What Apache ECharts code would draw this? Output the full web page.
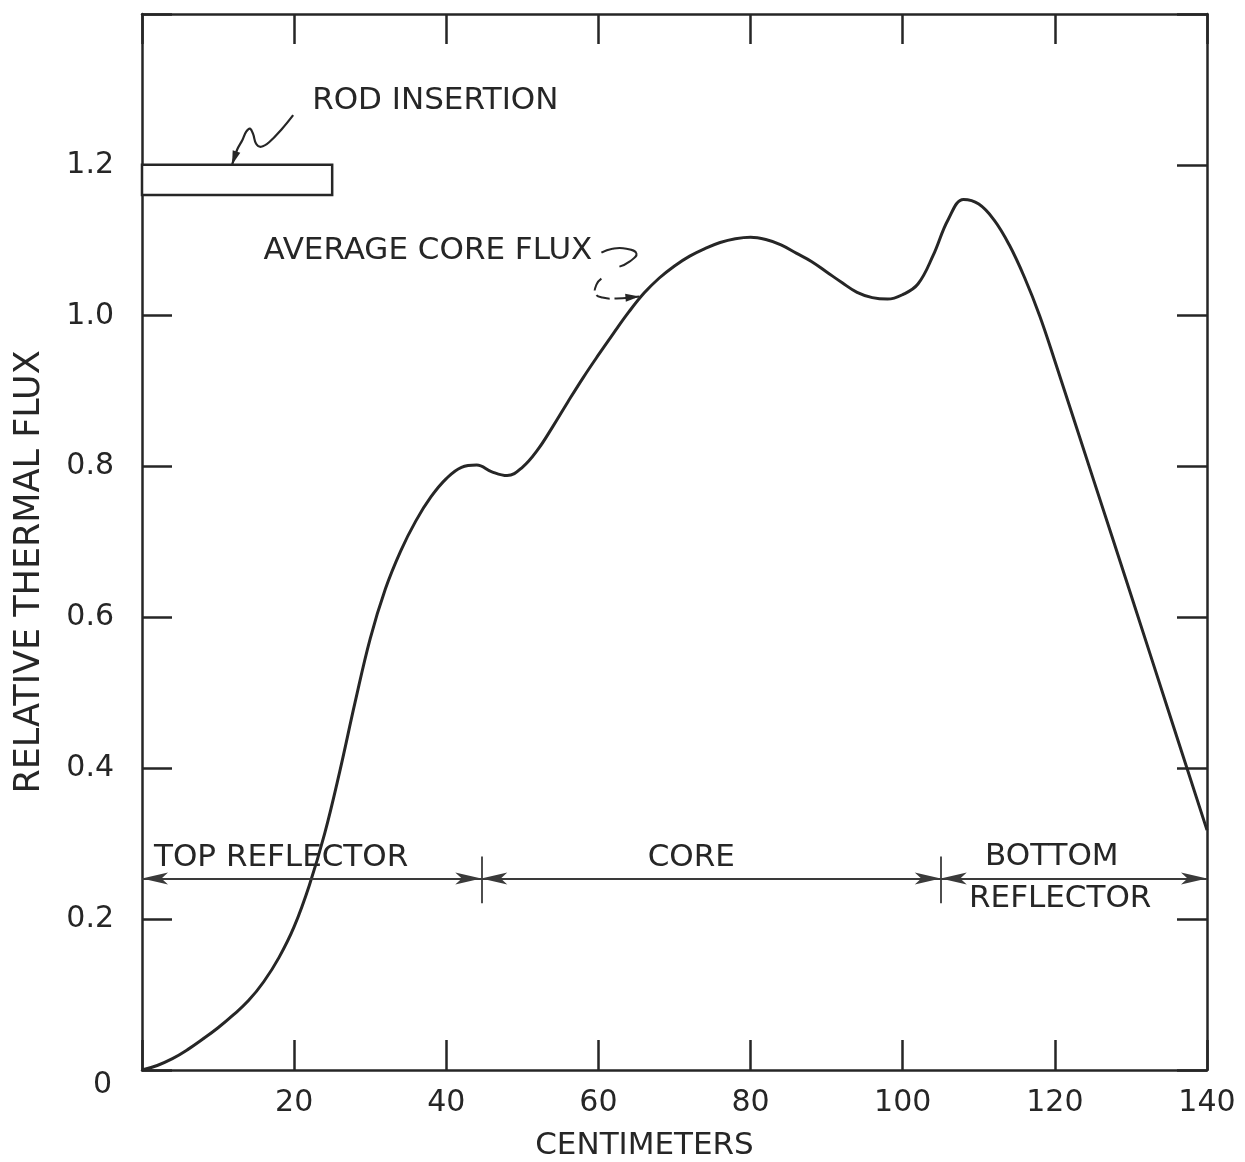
<!DOCTYPE html>
<html>
<head>
<meta charset="utf-8">
<title>Relative Thermal Flux</title>
<script src="https://cdn.jsdelivr.net/npm/echarts@6/dist/echarts.min.js"></script>
<style>
  html, body { margin: 0; padding: 0; background: #ffffff; }
  #chart { width: 1245px; height: 1162px; }
</style>
</head>
<body>
<div id="chart"></div>
<script>
// Axial position along the assembly (cm) and the average core thermal flux
const positionCm = [0, 2, 4, 6, 8, 10, 12, 14, 16, 18, 20, 22, 24, 26, 28, 30, 32, 34, 36, 38, 40, 42, 44, 46, 48, 50, 52, 54, 56, 58, 60, 62, 64, 66, 68, 70, 72, 74, 76, 78, 80, 82, 84, 86, 88, 90, 92, 94, 96, 98, 100, 102, 104, 106, 108, 110, 112, 114, 116, 118, 120, 125, 130, 135, 140];
const relativeFlux = [0, 0.006, 0.015, 0.027, 0.041, 0.056, 0.073, 0.092, 0.117, 0.149, 0.19, 0.245, 0.313, 0.396, 0.487, 0.572, 0.638, 0.688, 0.728, 0.76, 0.784, 0.799, 0.802, 0.793, 0.788, 0.799, 0.822, 0.853, 0.886, 0.918, 0.948, 0.977, 1.005, 1.03, 1.05, 1.066, 1.079, 1.089, 1.097, 1.102, 1.104, 1.101, 1.094, 1.083, 1.072, 1.058, 1.044, 1.031, 1.024, 1.022, 1.028, 1.042, 1.08, 1.128, 1.154, 1.148, 1.127, 1.094, 1.051, 1.0, 0.94, 0.785, 0.63, 0.474, 0.318];

// Axis scales and tick labels
const xTickValues = [0, 20, 40, 60, 80, 100, 120, 140];
const xTickLabels = ['', '20', '40', '60', '80', '100', '120', '140'];
const yTickValues = [0, 0.2, 0.4, 0.6, 0.8, 1.0, 1.2, 1.4];
const yTickLabels = ['0', '0.2', '0.4', '0.6', '0.8', '1.0', '1.2', ''];

// Reactor regions along the axis
const regionBounds = [0, 44.6, 105, 140];
const regionLevel = 0.254;
const regionTickSpan = [0.221, 0.283];

// Control rod inserted from the top
const rodExtent = [0, 25];
const rodLevels = [1.16, 1.2];

const ink = '#262626';
const FONT = 'DejaVu Sans';

const chart = echarts.init(document.getElementById('chart'), null, { renderer: 'canvas' });

function frameAxis(extra) {
  return Object.assign({
    type: 'value',
    axisLine: { show: true, onZero: false, lineStyle: { color: ink, width: 2.5 } },
    axisTick: { show: true, inside: true, length: 30, lineStyle: { color: ink, width: 2.5 } },
    splitLine: { show: false }
  }, extra);
}

const regionSegments = [];
for (let i = 0; i < regionBounds.length - 1; i++) {
  regionSegments.push([
    { coord: [regionBounds[i], regionLevel] },
    { coord: [regionBounds[i + 1], regionLevel] }
  ]);
}
const boundaryTicks = regionBounds.slice(1, -1).map(b => [
  { coord: [b, regionTickSpan[0]], symbol: 'none' },
  { coord: [b, regionTickSpan[1]], symbol: 'none' }
]);

const option = {
  animation: false,
  backgroundColor: '#ffffff',
  grid: { left: 142, right: 38, top: 14, bottom: 92, containLabel: false, outerBoundsMode: 'none' },
  xAxis: [
    frameAxis({
      min: 0, max: 140, interval: 20, position: 'bottom',
      axisLabel: {
        color: ink, fontSize: 30, fontFamily: FONT, margin: 18,
        formatter: v => xTickLabels[xTickValues.indexOf(v)] || ''
      },
      name: 'CENTIMETERS', nameLocation: 'middle', nameGap: 60,
      nameTextStyle: { color: ink, fontSize: 31, fontFamily: FONT, padding: [0, 60, 0, 0] }
    }),
    frameAxis({ min: 0, max: 140, interval: 20, position: 'top', axisLabel: { show: false } })
  ],
  yAxis: [
    frameAxis({
      min: 0, max: 1.4, interval: 0.2, position: 'left',
      axisLabel: {
        color: ink, fontSize: 30, fontFamily: FONT, margin: 28,
        formatter: v => {
          const i = yTickValues.findIndex(t => Math.abs(t - v) < 1e-6);
          const s = i >= 0 ? yTickLabels[i] : '';
          return v === 0 ? '{zero|' + s + '}' : s;
        },
        rich: { zero: { color: ink, fontSize: 30, fontFamily: FONT, padding: [30, 2, 0, 0] } }
      },
      name: 'RELATIVE THERMAL FLUX', nameLocation: 'middle', nameGap: 95, nameRotate: 90,
      nameTextStyle: { color: ink, fontSize: 35, fontFamily: FONT, padding: [0, 60, 0, 0] }
    }),
    frameAxis({ min: 0, max: 1.4, interval: 0.2, position: 'right', axisLabel: { show: false } })
  ],
  series: [
    {
      type: 'line',
      name: 'Average core flux',
      data: positionCm.map((x, i) => [x, relativeFlux[i]]),
      smooth: 0.4,
      symbol: 'none',
      lineStyle: { color: ink, width: 3 },
      z: 3,
      markArea: {
        silent: true,
        itemStyle: { color: '#ffffff', borderColor: ink, borderWidth: 2.5 },
        data: [[
          { coord: [rodExtent[0], rodLevels[1]] },
          { coord: [rodExtent[1], rodLevels[0]] }
        ]]
      }
    },
    {
      type: 'line',
      name: 'Regions',
      data: [],
      markLine: {
        silent: true,
        symbol: ['arrow', 'arrow'],
        symbolSize: [9, 26],
        label: { show: false },
        lineStyle: { color: '#3a3a3a', width: 1.8, type: 'solid' },
        data: regionSegments.concat(boundaryTicks)
      }
    }
  ]
};
chart.setOption(option);

// Hand-drawn style pointers, defined in data units (cm, relative flux)
const rodPointer = [[19.87, 1.266], [18.42, 1.248], [16.71, 1.230], [15.66, 1.224], [15.0, 1.228], [14.6, 1.241], [14.2, 1.248], [13.7, 1.244], [13.2, 1.233], [12.5, 1.220], [11.84, 1.200]];
const fluxSwirl = [[60.39, 1.0836], [61.84, 1.0889], [63.68, 1.0889], [65.0, 1.0823], [64.08, 1.0717], [62.76, 1.0651]];
const fluxPointer = [[60.39, 1.0492], [59.74, 1.0413], [59.61, 1.0294], [60.53, 1.0241], [62.37, 1.0228], [65.39, 1.0254]];

// Annotation labels: [text, x, y, align]
const labels = [
  ['ROD INSERTION', 38.55, 1.2847, 'center'],
  ['AVERAGE CORE FLUX', 59.2, 1.0863, 'right'],
  ['TOP REFLECTOR', 1.58, 0.2805, 'left'],
  ['CORE', 72.2, 0.2805, 'center'],
  ['BOTTOM', 119.6, 0.2831, 'center'],
  ['REFLECTOR', 120.7, 0.2263, 'center']
];

function px(p) { return chart.convertToPixel({ gridIndex: 0 }, p); }

function arrowHead(pts, len, half) {
  const a = pts[pts.length - 2], b = pts[pts.length - 1];
  const dx = b[0] - a[0], dy = b[1] - a[1];
  const d = Math.hypot(dx, dy) || 1;
  const ux = dx / d, uy = dy / d;
  const bx = b[0] - ux * len, by = b[1] - uy * len;
  return [[b[0], b[1]], [bx - uy * half, by + ux * half], [bx + uy * half, by - ux * half]];
}

const rodPx = rodPointer.map(px);
const swirlPx = fluxSwirl.map(px);
const pointerPx = fluxPointer.map(px);

const graphics = [
  { type: 'polyline', shape: { points: rodPx, smooth: 0.4 }, style: { stroke: ink, lineWidth: 2.2, fill: null }, z: 10 },
  { type: 'polygon', shape: { points: arrowHead(rodPx, 14, 4) }, style: { fill: ink }, z: 10 },
  { type: 'polyline', shape: { points: swirlPx, smooth: 0.5 }, style: { stroke: ink, lineWidth: 2, fill: null }, z: 10 },
  { type: 'polyline', shape: { points: pointerPx, smooth: 0.5 }, style: { stroke: ink, lineWidth: 2, fill: null, lineDash: [14, 5] }, z: 10 },
  { type: 'polygon', shape: { points: arrowHead(pointerPx, 14, 4) }, style: { fill: ink }, z: 10 }
];
labels.forEach(([text, x, y, align]) => {
  const p = px([x, y]);
  graphics.push({
    type: 'text', x: p[0], y: p[1], z: 12,
    style: { text: text, font: '31px "' + FONT + '"', fill: ink, align: align, verticalAlign: 'middle' }
  });
});
chart.setOption({ graphic: graphics });
</script>
</body>
</html>
